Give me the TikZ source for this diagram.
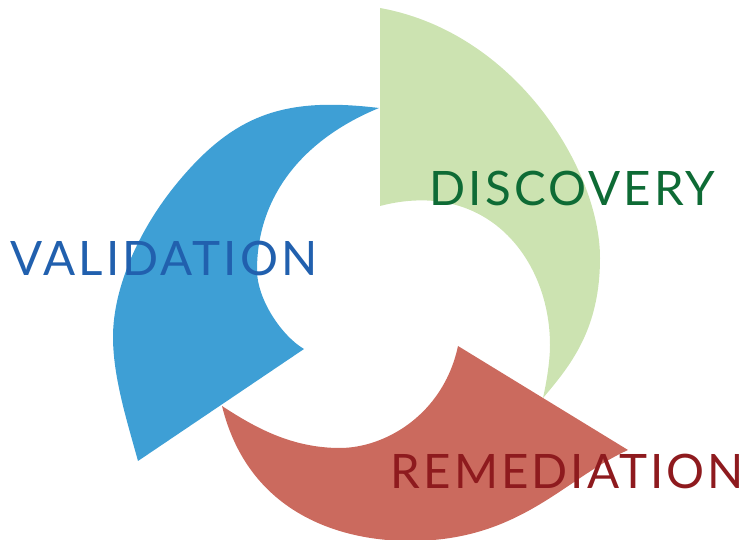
\documentclass[tikz,border=0pt]{standalone}
\usepackage{fontspec}
\newfontfamily\phasefont{Lato}[LetterSpace=6.5]
\definecolor{discfill}{HTML}{CCE3B1}
\definecolor{valifill}{HTML}{3E9FD5}
\definecolor{remefill}{HTML}{CB6A5E}
\definecolor{disctext}{HTML}{0E6B35}
\definecolor{valitext}{HTML}{2160AE}
\definecolor{remetext}{HTML}{8E1A1E}

\begin{document}
\begin{tikzpicture}[x=0.01cm, y=-0.01cm,
    phase/.style={anchor=base west, inner sep=0pt, font=\phasefont\fontsize{13.5}{14}\selectfont}]
    \useasboundingbox (0,0) rectangle (742,540);
    % discovery blade
    \fill[discfill] (380,206) -- (380,8)
        .. controls (516,32.5) and (600,170) .. (600,258)
        .. controls (600,329) and (571,365) .. (543,398)
        .. controls (547,380) and (550,360) .. (550,345)
        .. controls (550,259.5) and (487,178) .. (380,206) -- cycle;
    % validation blade
    \fill[valifill] (304,349) -- (138,461)
        .. controls (127,421) and (113,377) .. (113,337)
        .. controls (113,287) and (139.6,228.2) .. (178,182)
        .. controls (235.2,113.2) and (285.8,96.8) .. (379,108)
        .. controls (299,141) and (257,199.6) .. (257,270)
        .. controls (257,300) and (282.5,336.5) .. (304,349) -- cycle;
    % remediation blade
    \fill[remefill] (458,346) -- (628,450)
        .. controls (564,479) and (520,541) .. (410,541)
        .. controls (340.7,541) and (248.6,513.7) .. (222,406)
        .. controls (254.6,427.3) and (291.4,448) .. (340,448)
        .. controls (384.2,448) and (443.2,415.3) .. (458,346) -- cycle;
    % labels
    \node[phase, text=disctext] (disc) at (429,206) {DISCOVERY};
    \node[phase, text=valitext] (vali) at (10,276) {VALIDATION};
    \node[phase, text=remetext] (reme) at (390,489) {REMEDIATION};
\end{tikzpicture}
\end{document}
